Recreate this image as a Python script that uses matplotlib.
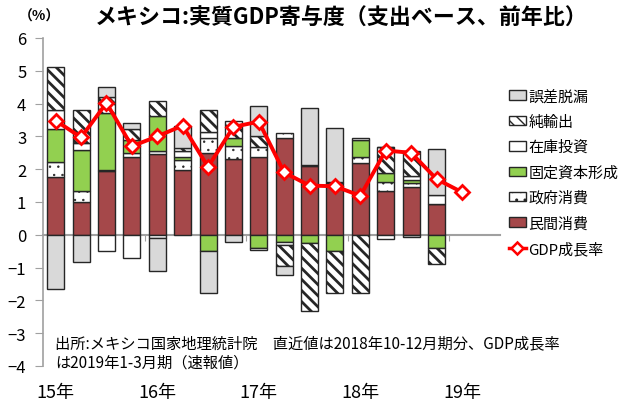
import matplotlib
matplotlib.use('Agg')
import matplotlib.pyplot as plt
from matplotlib.lines import Line2D
import numpy as np

plt.rcParams['font.family'] = ['Noto Sans CJK JP', 'DejaVu Sans']
plt.rcParams['hatch.color'] = 'black'

# ---------------------  data (寄与度, %pt) -----------------------
year_labels = ['15年', '16年', '17年', '18年', '19年']

priv = [1.75, 0.99, 1.94, 2.36, 2.47, 1.99, 2.50, 2.31, 2.36, 2.94, 2.09, 1.57, 2.18, 1.34, 1.47, 0.93]
gov = [0.46, 0.36, 0.03, 0.13, 0.07, 0.30, 0.44, 0.39, 0.31, 0.16, 0.04, 0.03, 0.20, 0.28, 0.12, 0.02]
fixed = [1.01, 1.25, 1.73, 0.40, 1.09, 0.07, -0.48, 0.24, -0.41, -0.21, -0.25, -0.50, 0.52, 0.27, 0.09, -0.39]
inv = [0.57, 0.20, -0.50, -0.70, -0.10, 0.19, 0.19, 0.00, -0.06, -0.10, 0.00, 0.00, 0.04, -0.12, 0.12, 0.27]
nx = [1.32, 1.02, 0.50, 0.34, 0.45, 0.10, 0.68, 0.52, 0.33, -0.65, -2.07, -1.27, -1.78, 0.78, 0.74, -0.50]
err = [-1.65, -0.84, 0.30, 0.17, -1.01, 0.67, -1.28, -0.21, 0.92, -0.27, 1.73, 1.66, 0.00, 0.02, -0.06, 1.39]

gdp = [3.48, 2.97, 4.02, 2.70, 3.00, 3.33, 2.07, 3.29, 3.45, 1.90, 1.50, 1.48, 1.19, 2.57, 2.50, 1.70, 1.30]

# name, values, face colour, hatch, hatch line width
series = [
    ('民間消費', priv, '#A5484A', None, 1.0),
    ('政府消費', gov, 'white', '..', 0.5),
    ('固定資本形成', fixed, '#92D050', None, 1.0),
    ('在庫投資', inv, 'white', None, 1.0),
    ('純輸出', nx, 'white', '\\\\\\', 2.0),
    ('誤差脱漏', err, '#D9D9D9', None, 1.0),
]

# ---------------------  figure -----------------------
fig = plt.figure(figsize=(6.21, 4.10), dpi=100)
ax = fig.add_axes([43 / 621, 1 - 367 / 410, (500 - 43) / 621, (367 - 39) / 410])

x = np.arange(len(priv))
pos_base = np.zeros(len(priv))
neg_base = np.zeros(len(priv))
handles = []
for name, vals, color, hatch, hlw in series:
    v = np.array(vals)
    pos = v > 0
    neg = v < 0
    with plt.rc_context({'hatch.linewidth': hlw}):
        bars = []
        bars += ax.bar(x[pos], v[pos], bottom=pos_base[pos], width=0.67, color=color,
                       edgecolor='#262626', linewidth=1.0, hatch=hatch, zorder=2).patches
        bars += ax.bar(x[neg], v[neg], bottom=neg_base[neg], width=0.67, color=color,
                       edgecolor='#262626', linewidth=1.0, hatch=hatch, zorder=2).patches
        h = plt.Rectangle((0, 0), 1, 1, facecolor=color, edgecolor='#262626',
                          linewidth=1.0, hatch=hatch, label=name)
    for b in bars + [h]:
        if hasattr(b, 'set_hatch_linewidth'):
            b.set_hatch_linewidth(hlw)
    handles.append(h)
    pos_base += np.where(pos, v, 0)
    neg_base += np.where(neg, v, 0)

xg = np.arange(len(gdp))
ax.plot(xg, gdp, color='#FF0000', linewidth=2.8, marker='D', markersize=7,
        markerfacecolor='white', markeredgecolor='#FF0000', markeredgewidth=2, zorder=3)

ax.set_xlim(-0.5, 17.5)
ax.set_ylim(-4, 6)
ax.set_yticks(np.arange(-4, 7, 1))
ax.tick_params(axis='y', direction='out', length=6, color='#A0A0A0', labelsize=12, pad=6)

ax.spines['top'].set_visible(False)
ax.spines['right'].set_visible(False)
ax.spines['left'].set_color('#A0A0A0')
ax.spines['left'].set_linewidth(1.2)
ax.spines['bottom'].set_position(('data', 0))
ax.spines['bottom'].set_color('#A0A0A0')
ax.spines['bottom'].set_linewidth(1.5)
ax.spines['bottom'].set_zorder(1)

ax.set_xticks([3.5, 7.5, 11.5, 15.5])
ax.set_xticklabels([])
ax.tick_params(axis='x', direction='out', length=4, color='#A0A0A0')

for i, lab in enumerate(year_labels):
    ax.text(i * 4, -0.08, lab, transform=ax.get_xaxis_transform(),
            ha='center', va='center', fontsize=13)

# legend
gdp_handle = Line2D([0], [0], color='#FF0000', linewidth=2.5, marker='D', markersize=6,
                    markerfacecolor='white', markeredgecolor='#FF0000', markeredgewidth=1.8,
                    label='GDP成長率')
fig.legend(handles=handles[::-1] + [gdp_handle], loc='upper left',
           bbox_to_anchor=(503 / 621, 1 - 84 / 410), frameon=False, fontsize=10.8,
           handlelength=1.1, handleheight=0.6, handletextpad=0.2, labelspacing=0.74,
           borderaxespad=0)

# titles and notes
fig.text(0.55, 0.955, 'メキシコ:実質GDP寄与度（支出ベース、前年比）', ha='center', va='center',
         fontsize=15.8, fontweight='bold')
fig.text(0.064, 0.96, '（%）', ha='center', va='center', fontsize=10, fontweight='bold')
fig.text(55 / 621, 1 - 344 / 410, '出所:メキシコ国家地理統計院　直近値は2018年10-12月期分、GDP成長率',
         ha='left', va='center', fontsize=11)
fig.text(55 / 621, 1 - 363 / 410, 'は2019年1-3月期（速報値）', ha='left', va='center', fontsize=11)

fig.savefig('out.png', dpi=100)
